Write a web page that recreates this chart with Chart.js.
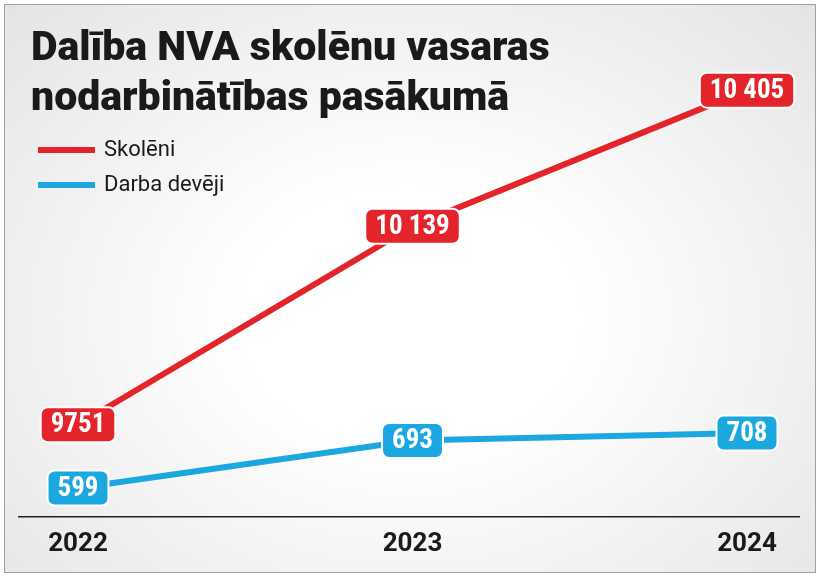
<!DOCTYPE html>
<html lang="lv">
<head>
<meta charset="UTF-8">
<title>Dalība NVA skolēnu vasaras nodarbinātības pasākumā</title>
<script src="https://cdn.jsdelivr.net/npm/chart.js"></script>
<style>
    html, body { margin: 0; padding: 0; background: #fff; }
    .frame {
        position: absolute; left: 4px; top: 4px; width: 810px; height: 567px;
        border: 1px solid #a0a0a0;
        background: radial-gradient(ellipse at 50% 55%, #ffffff 30%, #e4e4e4 100%);
    }
    #chart { position: absolute; left: 0; top: 0; }
</style>
</head>
<body>
<div class="frame"></div>
<canvas id="chart" width="820" height="577"></canvas>
<script>
const years = ['2022', '2023', '2024'];
const students = [9751, 10139, 10405];
const employers = [599, 693, 708];
const studentLabels = ['9751', '10 139', '10 405'];
const employerLabels = ['599', '693', '708'];

const RED = '#e3242b';
const BLUE = '#1ba8e0';
const FONT = 'Roboto, "Liberation Sans", sans-serif';

// title, legend, axis line and value boxes
const decor = {
    id: 'decor',
    afterDatasetsDraw(chart) {
        const c = chart.ctx;
        c.save();
        c.fillStyle = '#1a1a1a';
        c.font = '900 41px ' + FONT;
        c.textBaseline = 'alphabetic';
        c.textAlign = 'left';
        c.fillText('Dalība NVA skolēnu vasaras', 31, 60);
        c.fillText('nodarbinātības pasākumā', 31, 110);

        [['Skolēni', RED, 150], ['Darba devēji', BLUE, 185]].forEach(([t, col, y]) => {
            c.strokeStyle = col; c.lineWidth = 6; c.lineCap = 'butt';
            c.beginPath(); c.moveTo(38, y); c.lineTo(95, y); c.stroke();
            c.fillStyle = '#1a1a1a'; c.font = '400 22px ' + FONT;
            c.textBaseline = 'middle';
            c.fillText(t, 104, y);
        });

        const yb = chart.chartArea.bottom;
        c.strokeStyle = '#222'; c.lineWidth = 1.5;
        c.beginPath(); c.moveTo(18, yb); c.lineTo(800, yb); c.stroke();

        const sets = [[0, studentLabels, RED], [1, employerLabels, BLUE]];
        sets.forEach(([di, labels, col]) => {
            chart.getDatasetMeta(di).data.forEach((pt, i) => {
                c.font = '700 27px "Roboto Condensed", Roboto, sans-serif';
                const w = c.measureText(labels[i]).width + 20;
                const h = 35;
                const x = pt.x - w / 2, y = pt.y - h / 2;
                c.fillStyle = col;
                c.beginPath(); c.roundRect(x, y, w, h, 7); c.fill();
                c.strokeStyle = '#fff'; c.lineWidth = 2; c.stroke();
                c.fillStyle = '#fff';
                c.textAlign = 'center'; c.textBaseline = 'middle';
                c.fillText(labels[i], pt.x, pt.y + 1);
                c.textAlign = 'left';
            });
        });
        c.restore();
    }
};

new Chart(document.getElementById('chart'), {
    type: 'line',
    data: {
        labels: years,
        datasets: [
            { label: 'Skolēni', data: students, borderColor: RED, borderWidth: 6, pointRadius: 0, yAxisID: 'y', tension: 0 },
            { label: 'Darba devēji', data: employers, borderColor: BLUE, borderWidth: 6, pointRadius: 0, yAxisID: 'y2', tension: 0 }
        ]
    },
    options: {
        responsive: false,
        animation: false,
        layout: { padding: { top: 40, bottom: 5, left: 78, right: 73 } },
        plugins: { legend: { display: false }, tooltip: { enabled: false } },
        scales: {
            x: {
                offset: false,
                grid: { display: false, drawTicks: false },
                border: { display: false },
                ticks: { color: '#1a1a1a', font: { family: FONT, size: 26, weight: '700' }, padding: 12 }
            },
            y: { display: false, min: 9571, max: 10503 },
            y2: { display: false, min: 542, max: 1486 }
        }
    },
    plugins: [decor]
});
</script>
</body>
</html>
